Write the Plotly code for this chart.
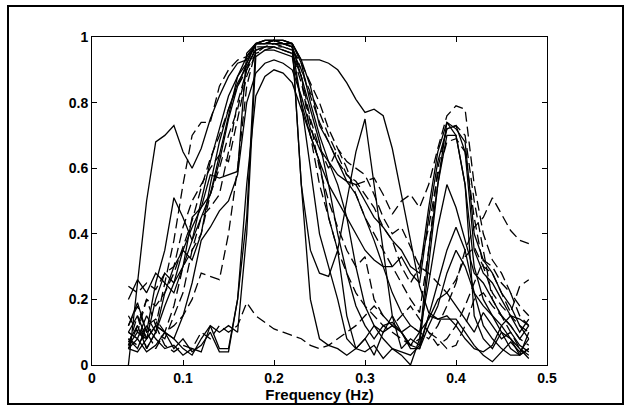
import plotly.graph_objects as go

freq = [round(0.04 + 0.01 * i, 2) for i in range(45)]

solid_1 = [0.00,0.25,0.50,0.68,0.70,0.73,0.65,0.60,0.66,0.75,0.82,0.88,0.92,0.93,0.98,0.98,0.99,0.99,0.98,0.93,0.93,0.93,0.92,0.90,0.86,0.81,0.77,0.78,0.76,0.66,0.52,0.38,0.24,0.16,0.14,0.14,0.14,0.10,0.06,0.03,0.01,0.04,0.07,0.04,0.08]
solid_2 = [0.12,0.19,0.10,0.25,0.35,0.51,0.45,0.38,0.50,0.62,0.72,0.82,0.88,0.92,0.98,0.98,0.98,0.98,0.97,0.80,0.70,0.62,0.45,0.35,0.50,0.65,0.75,0.55,0.35,0.15,0.05,0.08,0.06,0.15,0.25,0.35,0.42,0.35,0.22,0.12,0.08,0.05,0.03,0.03,0.05]
solid_3 = [0.08,0.05,0.12,0.08,0.05,0.06,0.03,0.05,0.04,0.12,0.05,0.05,0.20,0.45,0.98,0.99,0.99,0.99,0.98,0.55,0.35,0.28,0.27,0.35,0.15,0.05,0.04,0.06,0.02,0.05,0.03,0.00,0.08,0.35,0.55,0.70,0.70,0.55,0.15,0.08,0.05,0.10,0.08,0.03,0.10]
solid_4 = [0.10,0.08,0.15,0.10,0.22,0.30,0.35,0.42,0.48,0.58,0.57,0.58,0.59,0.95,0.98,0.99,0.99,0.98,0.98,0.55,0.20,0.08,0.06,0.05,0.03,0.05,0.08,0.12,0.10,0.15,0.10,0.06,0.05,0.15,0.14,0.15,0.12,0.08,0.05,0.04,0.06,0.12,0.15,0.14,0.12]
solid_5 = [0.05,0.08,0.04,0.06,0.10,0.05,0.08,0.04,0.06,0.10,0.04,0.04,0.20,0.55,0.82,0.88,0.90,0.89,0.86,0.78,0.70,0.62,0.55,0.50,0.45,0.40,0.35,0.32,0.30,0.30,0.33,0.28,0.25,0.45,0.62,0.72,0.73,0.65,0.35,0.28,0.25,0.20,0.15,0.10,0.14]
solid_6 = [0.06,0.10,0.08,0.12,0.10,0.08,0.15,0.25,0.38,0.42,0.47,0.50,0.58,0.80,0.89,0.92,0.93,0.92,0.90,0.82,0.72,0.66,0.62,0.58,0.56,0.55,0.50,0.45,0.42,0.38,0.35,0.30,0.28,0.48,0.65,0.74,0.72,0.68,0.40,0.32,0.28,0.22,0.18,0.12,0.08]
solid_7 = [0.05,0.04,0.08,0.12,0.10,0.08,0.05,0.03,0.08,0.12,0.10,0.12,0.10,0.40,0.94,0.96,0.96,0.95,0.94,0.80,0.60,0.40,0.30,0.20,0.08,0.05,0.08,0.03,0.10,0.12,0.10,0.05,0.05,0.12,0.18,0.28,0.35,0.30,0.22,0.18,0.15,0.12,0.08,0.05,0.02]
solid_8 = [0.20,0.26,0.22,0.28,0.25,0.22,0.30,0.38,0.45,0.52,0.62,0.75,0.85,0.92,0.98,0.98,0.99,0.98,0.98,0.92,0.80,0.70,0.62,0.55,0.45,0.30,0.18,0.12,0.08,0.05,0.04,0.03,0.06,0.30,0.55,0.74,0.70,0.55,0.30,0.20,0.15,0.10,0.05,0.03,0.05]
solid_9 = [0.10,0.15,0.08,0.20,0.28,0.25,0.35,0.32,0.40,0.55,0.68,0.78,0.86,0.91,0.96,0.97,0.97,0.96,0.95,0.88,0.78,0.68,0.55,0.40,0.28,0.18,0.12,0.08,0.12,0.13,0.10,0.06,0.10,0.14,0.20,0.22,0.18,0.14,0.10,0.16,0.12,0.08,0.10,0.06,0.04]
solid_10 = [0.07,0.12,0.05,0.10,0.18,0.25,0.30,0.45,0.48,0.52,0.64,0.76,0.88,0.94,0.98,0.99,0.99,0.99,0.98,0.93,0.85,0.73,0.68,0.62,0.56,0.52,0.45,0.38,0.30,0.22,0.16,0.12,0.10,0.25,0.42,0.55,0.48,0.38,0.28,0.25,0.20,0.15,0.12,0.08,0.12]

dashed_1 = [0.12,0.18,0.10,0.12,0.06,0.04,0.06,0.05,0.10,0.08,0.12,0.10,0.12,0.19,0.15,0.13,0.11,0.10,0.09,0.08,0.06,0.05,0.06,0.08,0.10,0.12,0.15,0.18,0.15,0.12,0.10,0.12,0.10,0.08,0.12,0.18,0.25,0.35,0.42,0.45,0.51,0.46,0.41,0.38,0.37]
dashed_2 = [0.15,0.10,0.20,0.12,0.25,0.38,0.55,0.70,0.74,0.74,0.85,0.90,0.93,0.94,0.98,0.98,0.99,0.98,0.97,0.90,0.82,0.74,0.68,0.62,0.58,0.55,0.56,0.57,0.52,0.46,0.50,0.52,0.48,0.55,0.66,0.76,0.79,0.78,0.55,0.40,0.32,0.28,0.22,0.18,0.15]
dashed_3 = [0.08,0.06,0.10,0.05,0.10,0.18,0.30,0.35,0.40,0.52,0.60,0.70,0.78,0.90,0.98,0.98,0.98,0.98,0.97,0.88,0.75,0.66,0.60,0.66,0.60,0.52,0.45,0.40,0.35,0.30,0.25,0.20,0.16,0.35,0.60,0.72,0.73,0.70,0.50,0.35,0.20,0.15,0.12,0.08,0.06]
dashed_4 = [0.24,0.22,0.25,0.23,0.28,0.30,0.42,0.50,0.55,0.60,0.64,0.62,0.75,0.88,0.95,0.97,0.98,0.97,0.96,0.90,0.83,0.77,0.70,0.64,0.58,0.56,0.52,0.48,0.42,0.38,0.30,0.25,0.30,0.42,0.58,0.68,0.69,0.65,0.45,0.30,0.28,0.22,0.16,0.24,0.26]
dashed_5 = [0.10,0.08,0.12,0.14,0.10,0.12,0.15,0.20,0.28,0.27,0.26,0.40,0.60,0.85,0.96,0.97,0.97,0.96,0.95,0.86,0.74,0.60,0.50,0.42,0.35,0.30,0.33,0.20,0.15,0.12,0.15,0.18,0.14,0.10,0.06,0.08,0.12,0.18,0.25,0.32,0.30,0.25,0.22,0.15,0.12]
dashed_6 = [0.05,0.12,0.20,0.18,0.22,0.28,0.36,0.44,0.54,0.63,0.70,0.78,0.85,0.90,0.95,0.96,0.97,0.97,0.96,0.92,0.86,0.80,0.72,0.66,0.62,0.60,0.58,0.52,0.45,0.40,0.42,0.36,0.30,0.28,0.25,0.22,0.26,0.33,0.36,0.30,0.22,0.18,0.15,0.12,0.10]
dashed_7 = [0.06,0.15,0.05,0.10,0.08,0.15,0.22,0.35,0.45,0.48,0.52,0.65,0.80,0.90,0.97,0.97,0.98,0.98,0.97,0.88,0.70,0.55,0.45,0.35,0.28,0.22,0.18,0.15,0.12,0.10,0.08,0.06,0.08,0.10,0.08,0.05,0.06,0.12,0.20,0.22,0.18,0.15,0.10,0.05,0.03]

solid_series = [solid_1, solid_2, solid_3, solid_4, solid_5, solid_6, solid_7, solid_8, solid_9, solid_10]
dashed_series = [dashed_1, dashed_2, dashed_3, dashed_4, dashed_5, dashed_6, dashed_7]

x_ticks = [0, 0.1, 0.2, 0.3, 0.4, 0.5]
x_tick_labels = ["0", "0.1", "0.2", "0.3", "0.4", "0.5"]
y_ticks = [0, 0.2, 0.4, 0.6, 0.8, 1]
y_tick_labels = ["0", "0.2", "0.4", "0.6", "0.8", "1"]

fig = go.Figure()
for ys in solid_series:
    fig.add_trace(go.Scatter(x=freq, y=ys, mode="lines",
                             line=dict(color="black", width=1.3), showlegend=False))
for ys in dashed_series:
    fig.add_trace(go.Scatter(x=freq, y=ys, mode="lines",
                             line=dict(color="black", width=1.3, dash="10px,5px"), showlegend=False))

L, R, T, B = 92, 83, 37, 45
W, H = 630, 410
pw, ph = W - L - R, H - T - B

def px2paper_x(px):
    return (px - L) / pw

def px2paper_y(py):
    return (H - B - py) / ph

fig.add_shape(type="rect", xref="paper", yref="paper",
              x0=px2paper_x(8), x1=px2paper_x(623),
              y0=px2paper_y(404), y1=px2paper_y(6),
              line=dict(color="black", width=2), layer="below")

axis_font = dict(family="Liberation Sans, Arial, sans-serif", size=14, color="black")
fig.update_layout(
    width=W, height=H,
    margin=dict(l=L, r=R, t=T, b=B),
    paper_bgcolor="white", plot_bgcolor="white",
    xaxis=dict(range=[0, 0.5], tickvals=x_ticks, ticktext=["<b>%s</b>" % t for t in x_tick_labels],
               ticks="inside", ticklen=5, tickcolor="black", mirror="ticks",
               showline=True, linecolor="black", linewidth=1, showgrid=False, zeroline=False,
               tickfont=axis_font,
               title=dict(text="<b>Frequency (Hz)</b>", font=dict(family="Liberation Sans, Arial, sans-serif", size=15, color="black"), standoff=3)),
    yaxis=dict(range=[0, 1], tickvals=y_ticks, ticktext=["<b>%s</b>" % t for t in y_tick_labels],
               ticks="inside", ticklen=5, tickcolor="black", mirror="ticks",
               showline=True, linecolor="black", linewidth=1, showgrid=False, zeroline=False,
               tickfont=axis_font),
)

fig.write_html("out.html")
